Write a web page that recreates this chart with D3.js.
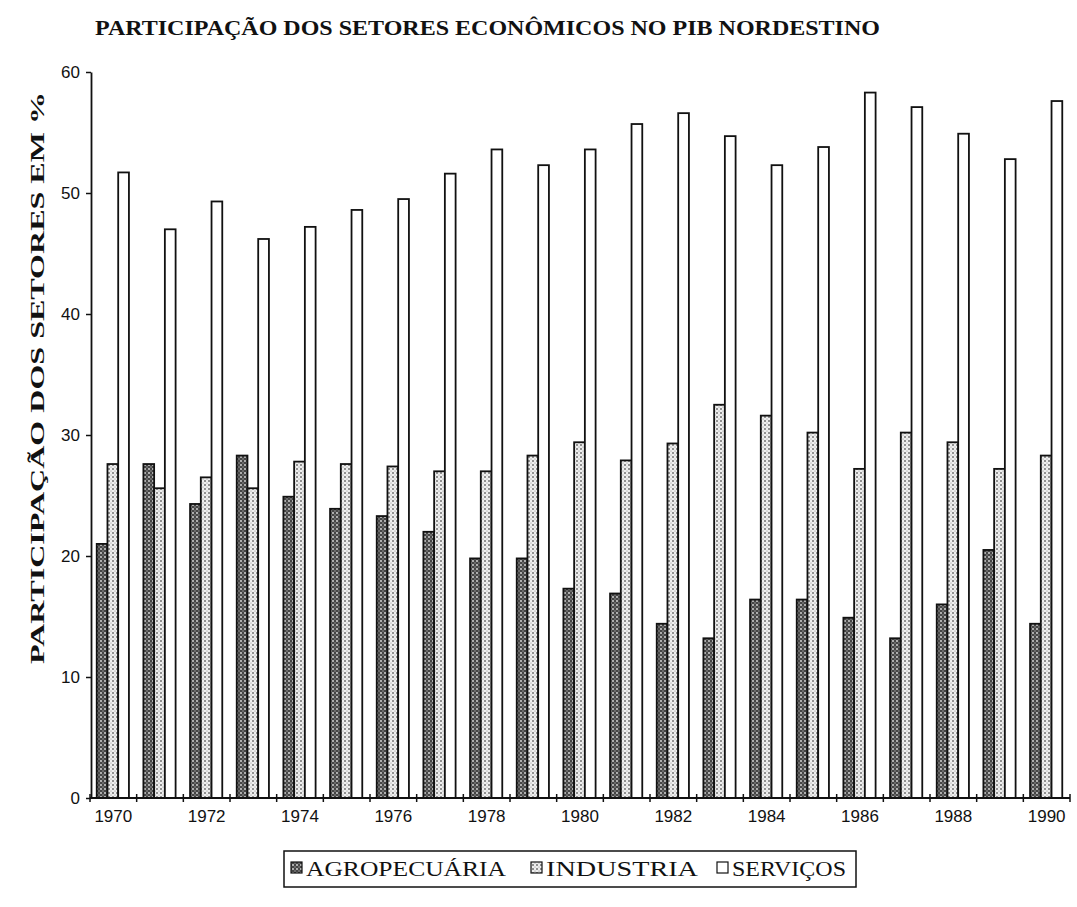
<!DOCTYPE html>
<html><head><meta charset="utf-8">
<script src="https://cdn.jsdelivr.net/npm/d3@7"></script>
<style>body{margin:0;background:#fff}svg{display:block}</style>
</head><body>
<svg id="c" width="1077" height="907"></svg>
<script>
const years = [1970,1971,1972,1973,1974,1975,1976,1977,1978,1979,1980,1981,1982,1983,1984,1985,1986,1987,1988,1989,1990];
const agropecuaria = [21.0,27.6,24.3,28.3,24.9,23.9,23.3,22.0,19.8,19.8,17.3,16.9,14.4,13.2,16.4,16.4,14.9,13.2,16.0,20.5,14.4];
const industria = [27.6,25.6,26.5,25.6,27.8,27.6,27.4,27.0,27.0,28.3,29.4,27.9,29.3,32.5,31.6,30.2,27.2,30.2,29.4,27.2,28.3];
const servicos = [51.7,47.0,49.3,46.2,47.2,48.6,49.5,51.6,53.6,52.3,53.6,55.7,56.6,54.7,52.3,53.8,58.3,57.1,54.9,52.8,57.6];
const seriesNames = ["AGROPECUÁRIA","INDUSTRIA","SERVIÇOS"];
const yTicks = [0,10,20,30,40,50,60];
const xTickLabels = [1970,1972,1974,1976,1978,1980,1982,1984,1986,1988,1990];
const chartTitle = "PARTICIPAÇÃO DOS SETORES ECONÔMICOS NO PIB NORDESTINO";
const yTitle = "PARTICIPAÇÃO DOS SETORES EM %";

const seriesData = [agropecuaria, industria, servicos];
const svg = d3.select("#c");
const defs = svg.append("defs");
const pA = defs.append("pattern").attr("id","pA").attr("patternUnits","userSpaceOnUse").attr("width",4).attr("height",4);
pA.append("rect").attr("width",4).attr("height",4).attr("fill","#454545");
pA.append("circle").attr("cx",1).attr("cy",1).attr("r",0.9).attr("fill","#e0e0e0");
pA.append("circle").attr("cx",3).attr("cy",3).attr("r",0.7).attr("fill","#aaa");
const pI = defs.append("pattern").attr("id","pI").attr("patternUnits","userSpaceOnUse").attr("width",4).attr("height",4);
pI.append("rect").attr("width",4).attr("height",4).attr("fill","#eeeeee");
pI.append("circle").attr("cx",1).attr("cy",1).attr("r",0.8).attr("fill","#1a1a1a");
pI.append("circle").attr("cx",3).attr("cy",3).attr("r",0.5).attr("fill","#777");
const fills = ["url(#pA)","url(#pI)","#fff"];

const mLeft = 90, mRight = 1070, mTop = 72, mBottom = 798;
const x = d3.scaleBand().domain(years).range([mLeft,mRight]).padding(0);
const groupW = x.bandwidth()*0.69;
const x1 = d3.scaleBand().domain(d3.range(3)).range([0,groupW]).padding(0);
const y = d3.scaleLinear().domain([0,60]).range([mBottom,mTop]);

svg.append("text").attr("x",95).attr("y",35).attr("font-family","Liberation Serif, serif").attr("font-weight","bold")
  .attr("font-size",20).attr("textLength",785).attr("lengthAdjust","spacingAndGlyphs").attr("fill","#111").text(chartTitle);

svg.append("text").attr("transform","translate(44,378) rotate(-90)").attr("text-anchor","middle")
  .attr("font-family","Liberation Serif, serif").attr("font-weight","bold").attr("font-size",18)
  .attr("textLength",572).attr("lengthAdjust","spacingAndGlyphs").attr("fill","#111").text(yTitle);

const g = svg.append("g");
years.forEach((yr,i)=>{
  const gx = x(yr) + (x.bandwidth()-groupW)/2 - 0.5;
  seriesData.forEach((s,k)=>{
    g.append("rect").attr("x",gx + x1(k)).attr("y",y(s[i])).attr("width",x1.bandwidth())
      .attr("height",y(0)-y(s[i])).attr("fill",fills[k]).attr("stroke","#111").attr("stroke-width",1.8);
  });
});

const ya = svg.append("g").attr("transform",`translate(${mLeft+1},0)`)
  .call(d3.axisLeft(y).tickValues(yTicks).tickSize(5).tickPadding(6).tickSizeOuter(0));
ya.select(".domain").attr("stroke","#111").attr("stroke-width",1.8);
ya.selectAll(".tick line").attr("stroke","#111").attr("stroke-width",1.5);
ya.selectAll("text").attr("font-family","Liberation Sans, Arial, sans-serif").attr("font-size",17).attr("fill","#111");

const xa = svg.append("g").attr("transform",`translate(0,${mBottom})`);
xa.append("line").attr("x1",mLeft).attr("x2",mRight).attr("y1",0).attr("y2",0).attr("stroke","#111").attr("stroke-width",1.8);
const boundaries = years.map(d=>x(d)).concat([mRight]);
xa.selectAll("line.tk").data(boundaries).enter().append("line").attr("class","tk")
  .attr("x1",d=>d).attr("x2",d=>d).attr("y1",-4).attr("y2",4).attr("stroke","#111").attr("stroke-width",1.5);
xa.selectAll("text").data(xTickLabels).enter().append("text")
  .attr("x",d=>x(d)+x.bandwidth()/2).attr("y",24).attr("text-anchor","middle")
  .attr("font-family","Liberation Sans, Arial, sans-serif").attr("font-size",17).attr("fill","#111").text(d=>d);

const lg = svg.append("g");
lg.append("rect").attr("x",284).attr("y",851).attr("width",572).attr("height",36).attr("fill","#fff").attr("stroke","#111").attr("stroke-width",1.5);
const legX = [291, 531, 717];
const legTextLen = [200, 152, 114];
seriesNames.forEach((n,k)=>{
  lg.append("rect").attr("x",legX[k]).attr("y",862).attr("width",11).attr("height",11).attr("fill",fills[k]).attr("stroke","#111").attr("stroke-width",1.2);
  lg.append("text").attr("x",legX[k]+15).attr("y",876).attr("font-family","Liberation Serif, serif")
    .attr("font-size",21).attr("textLength",legTextLen[k]).attr("lengthAdjust","spacingAndGlyphs").attr("fill","#111").text(n);
});
</script>
</body></html>
